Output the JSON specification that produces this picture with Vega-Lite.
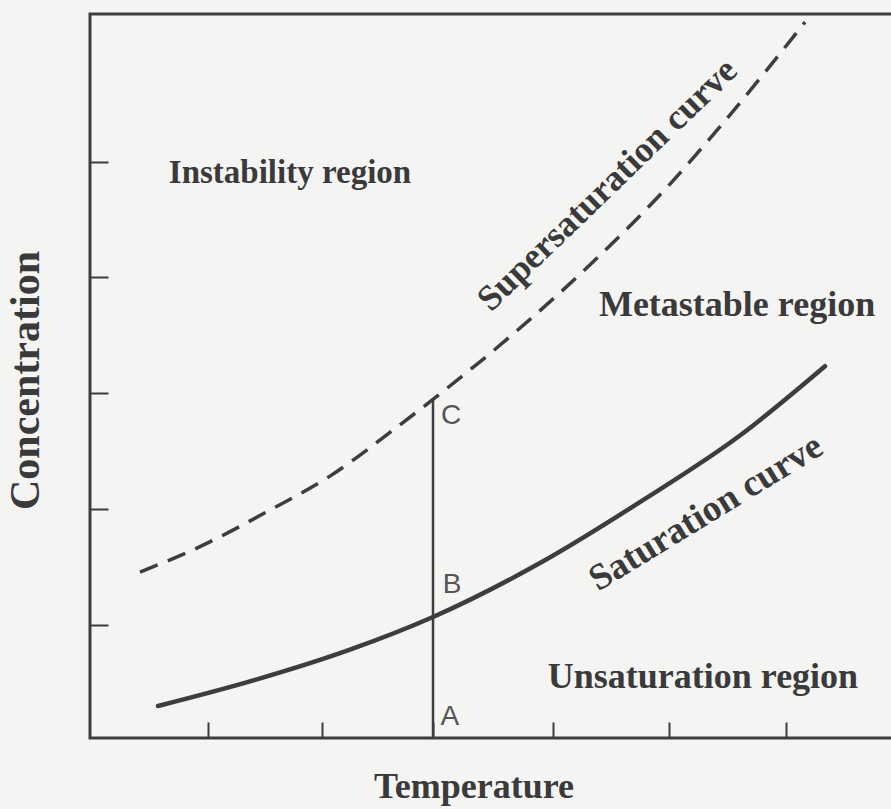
{
  "$schema": "https://vega.github.io/schema/vega-lite/v6.json",
  "width": 812,
  "height": 724,
  "autosize": "none",
  "padding": {"left": 90, "top": 14, "right": 0, "bottom": 71},
  "background": "#f4f4f3",
  "config": {
    "view": {"stroke": "#3d3d3d", "strokeWidth": 3},
    "axis": {
      "grid": false,
      "domain": false,
      "labels": false,
      "tickColor": "#3d3d3d",
      "tickWidth": 2,
      "titleFont": "Liberation Serif",
      "titleFontWeight": "bold",
      "titleColor": "#3a3a3a"
    }
  },
  "datasets": {
    "saturation": [
      {"t": 0.586, "c": 0.277},
      {"t": 1.379, "c": 0.49},
      {"t": 2.241, "c": 0.765},
      {"t": 2.957, "c": 1.048},
      {"t": 3.879, "c": 1.515},
      {"t": 4.767, "c": 2.06},
      {"t": 5.603, "c": 2.62},
      {"t": 6.336, "c": 3.22}
    ],
    "supersaturation": [
      {"t": 0.431, "c": 1.437},
      {"t": 0.922, "c": 1.645},
      {"t": 1.552, "c": 1.974},
      {"t": 2.069, "c": 2.268},
      {"t": 2.647, "c": 2.693},
      {"t": 2.948, "c": 2.926},
      {"t": 3.647, "c": 3.498},
      {"t": 4.371, "c": 4.156},
      {"t": 5.0, "c": 4.797},
      {"t": 5.457, "c": 5.325},
      {"t": 6.164, "c": 6.199}
    ],
    "isotherm": [
      {"t": 2.957, "c": 0, "c2": 2.93}
    ],
    "points": [
      {"t": 3.112, "c": 2.788, "label": "C"},
      {"t": 3.121, "c": 1.325, "label": "B"},
      {"t": 3.103, "c": 0.182, "label": "A"}
    ]
  },
  "encoding": {
    "x": {
      "field": "t",
      "type": "quantitative",
      "scale": {"domain": [0, 7], "nice": false, "zero": false},
      "axis": {
        "title": "Temperature",
        "titleFontSize": 36,
        "values": [1.02, 2, 2.96, 3.99, 4.99, 6],
        "tickSize": -16,
        "titleX": 383.5,
        "titleY": 59,
        "titleBaseline": "alphabetic",
        "titleAlign": "center",
        "titleAnchor": null
      }
    },
    "y": {
      "field": "c",
      "type": "quantitative",
      "scale": {"domain": [0, 6.27], "nice": false, "zero": false},
      "axis": {
        "title": "Concentration",
        "titleFontSize": 42,
        "values": [0.98, 1.98, 2.99, 3.99, 4.99],
        "tickSize": -18,
        "titleX": -52,
        "titleY": 366,
        "titleAngle": -90,
        "titleBaseline": "alphabetic",
        "titleAlign": "center",
        "titleAnchor": null
      }
    }
  },
  "layer": [
    {
      "data": {"name": "isotherm"},
      "mark": {"type": "rule", "color": "#3d3d3d", "strokeWidth": 2.5},
      "encoding": {"y2": {"field": "c2"}}
    },
    {
      "data": {"name": "saturation"},
      "mark": {"type": "line", "interpolate": "monotone", "color": "#3d3d3d", "strokeWidth": 4.5, "strokeCap": "round"},
      "encoding": {}
    },
    {
      "data": {"name": "supersaturation"},
      "mark": {"type": "line", "interpolate": "monotone", "color": "#3d3d3d", "strokeWidth": 3.5, "strokeDash": [19, 11]},
      "encoding": {}
    },
    {
      "data": {"values": [{"t": 1.724, "c": 4.892, "label": "Instability region"}]},
      "mark": {"type": "text", "font": "Liberation Serif", "fontWeight": "bold", "fontSize": 33, "color": "#3a3a3a", "align": "center", "baseline": "middle"},
      "encoding": {"text": {"field": "label"}}
    },
    {
      "data": {"values": [
        {"t": 5.578, "c": 3.749, "label": "Metastable region"},
        {"t": 5.284, "c": 0.528, "label": "Unsaturation region"}
      ]},
      "mark": {"type": "text", "font": "Liberation Serif", "fontWeight": "bold", "fontSize": 36, "color": "#3a3a3a", "align": "center", "baseline": "middle"},
      "encoding": {"text": {"field": "label"}}
    },
    {
      "data": {"values": [{"t": 4.46, "c": 4.79, "label": "Supersaturation curve"}]},
      "mark": {"type": "text", "font": "Liberation Serif", "fontWeight": "bold", "fontSize": 36, "color": "#3a3a3a", "align": "center", "baseline": "middle", "angle": -44},
      "encoding": {"text": {"field": "label"}}
    },
    {
      "data": {"values": [{"t": 5.31, "c": 1.95, "label": "Saturation curve"}]},
      "mark": {"type": "text", "font": "Liberation Serif", "fontWeight": "bold", "fontSize": 37, "color": "#3a3a3a", "align": "center", "baseline": "middle", "angle": -31.5},
      "encoding": {"text": {"field": "label"}}
    },
    {
      "data": {"name": "points"},
      "mark": {"type": "text", "font": "Liberation Sans", "fontSize": 28, "color": "#555555", "align": "center", "baseline": "middle"},
      "encoding": {"text": {"field": "label"}}
    }
  ]
}
